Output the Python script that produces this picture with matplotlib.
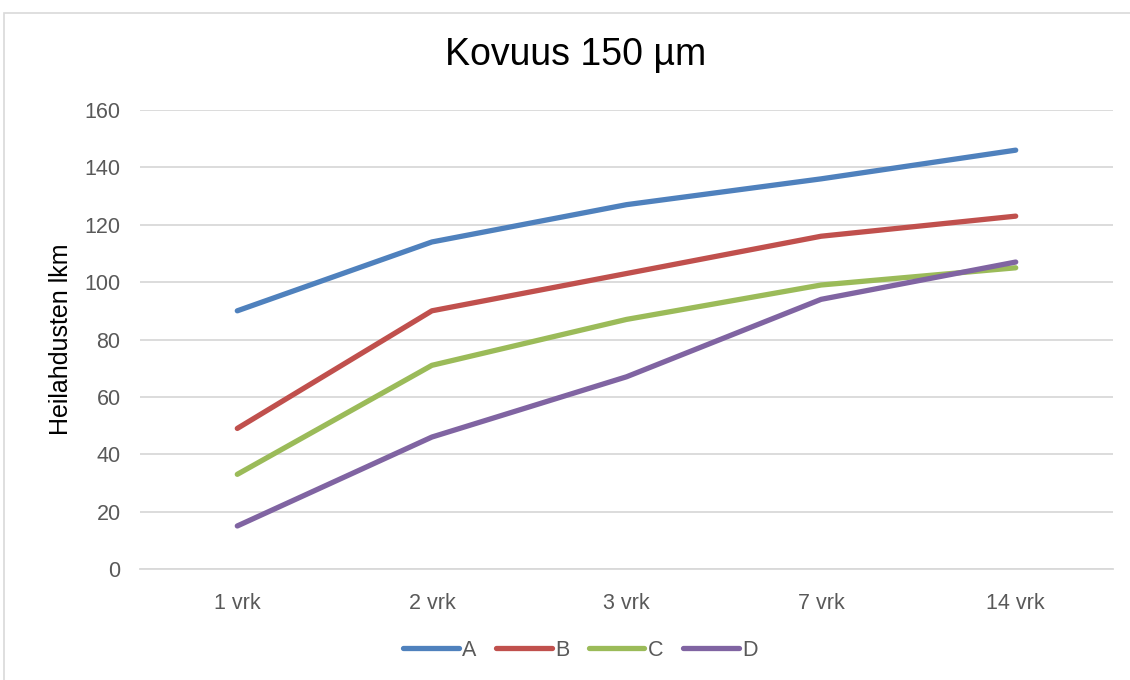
import matplotlib.pyplot as plt
from matplotlib.patches import Rectangle

plt.rcParams['font.family'] = ['Liberation Sans', 'DejaVu Sans']

# Mittauspäivät ja sarjojen arvot
categories = ['1 vrk', '2 vrk', '3 vrk', '7 vrk', '14 vrk']
series_names = ['A', 'B', 'C', 'D']
values_a = [90, 114, 127, 136, 146]
values_b = [49, 90, 103, 116, 123]
values_c = [33, 71, 87, 99, 105]
values_d = [15, 46, 67, 94, 107]
yticks = [0, 20, 40, 60, 80, 100, 120, 140, 160]

colors = ['#4F81BD', '#C0504D', '#9BBB59', '#8064A2']
grey = '#595959'

fig = plt.figure(figsize=(11.3, 6.8), dpi=100)
# kaavion kehys
fig.patches.append(Rectangle((4 / 1130, -0.01), 1.02, 1 - 13 / 680 + 0.01,
                             transform=fig.transFigure, fill=False,
                             edgecolor='#D9D9D9', linewidth=1.2))

ax = fig.add_axes([140 / 1130, 1 - 569 / 680, (1113 - 140) / 1130, (569 - 110) / 680])

x = list(range(len(categories)))
for name, vals, col in zip(series_names, [values_a, values_b, values_c, values_d], colors):
    ax.plot(x, vals, color=col, linewidth=3.8, solid_capstyle='round',
            solid_joinstyle='round', label=name)

ax.set_xlim(-0.5, len(categories) - 0.5)
ax.set_ylim(0, 160)
ax.set_yticks(yticks)
ax.set_xticks(x)
ax.set_xticklabels(categories)
ax.tick_params(axis='both', length=0, labelsize=15.5, colors=grey)
ax.tick_params(axis='x', pad=17)
ax.tick_params(axis='y', pad=14)
ax.grid(axis='y', color='#D9D9D9', linewidth=1.3)
ax.set_axisbelow(True)
for s in ['top', 'right', 'left']:
    ax.spines[s].set_visible(False)
ax.spines['bottom'].set_color('#D9D9D9')
ax.spines['bottom'].set_linewidth(1.3)

ax.set_ylabel('Heilahdusten lkm', fontsize=18, color='black', labelpad=8)
fig.text(576 / 1130, 1 - 55 / 680, 'Kovuus 150 µm', fontsize=27, ha='center', va='center')

leg = fig.legend(loc='center', bbox_to_anchor=(580 / 1130, 1 - 650 / 680), ncol=4,
                 frameon=False, fontsize=15.5, handlelength=2.6, columnspacing=0.9,
                 handletextpad=0.15)
for t in leg.get_texts():
    t.set_color(grey)

fig.savefig('out.png', dpi=100)
